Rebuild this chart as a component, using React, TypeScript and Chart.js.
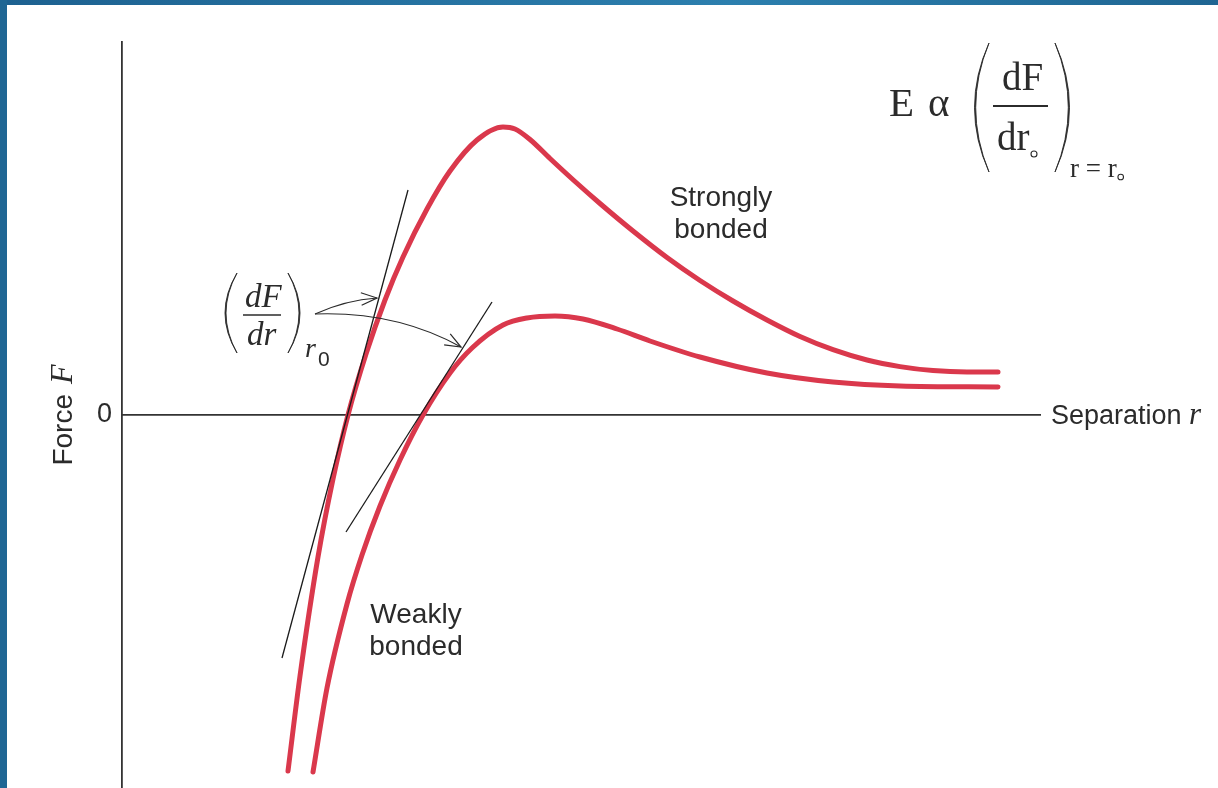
import React, { useEffect, useRef } from "react";
import { Chart, registerables } from "chart.js";

Chart.register(...registerables);

// Separation r (arbitrary units) and interatomic force F for the two bond types
const strongR = [1.66, 1.78, 1.96, 2.11, 2.26, 2.44, 2.63, 2.81, 3.05, 3.28, 3.55, 3.81, 3.93, 4.08, 4.28, 4.53, 4.78, 5.11, 5.45, 5.78, 6.11, 6.45, 6.78, 7.11, 7.45, 7.78, 8.11, 8.45, 8.76];
const strongF = [-3.56, -2.61, -1.42, -0.64, 0, 0.61, 1.15, 1.58, 2.06, 2.44, 2.75, 2.88, 2.86, 2.755, 2.565, 2.335, 2.115, 1.84, 1.575, 1.345, 1.14, 0.95, 0.785, 0.653, 0.55, 0.484, 0.444, 0.43, 0.43];

const weakR = [1.91, 2.05, 2.25, 2.4, 2.58, 2.78, 3.01, 3.28, 3.5, 3.81, 4.05, 4.33, 4.61, 4.95, 5.28, 5.78, 6.45, 7.11, 7.78, 8.76];
const weakF = [-3.57, -2.73, -1.89, -1.4, -0.91, -0.45, 0, 0.42, 0.67, 0.9, 0.97, 0.99, 0.96, 0.86, 0.74, 0.58, 0.42, 0.33, 0.29, 0.28];

// Tangent lines (dF/dr) at r0, where each curve crosses F = 0
const strongTangentR = [1.6, 2.86];
const strongTangentF = [-2.43, 2.25];
const weakTangentR = [2.24, 3.7];
const weakTangentF = [-1.17, 1.13];

// Axis range and the single labelled tick
const rMin = 0;
const rMax = 9.18;
const fMin = -3.73;
const fMax = 3.73;
const yTickValues = [0];

const SANS = '"Liberation Sans", Arial, Helvetica, sans-serif';
const SERIF = '"Liberation Serif", "Times New Roman", Times, serif';
const INK = "#2b2b2b";
const RED = "rgb(218, 56, 76)";

const toPoints = (xs: number[], ys: number[]) => xs.map((x, i) => ({ x, y: ys[i] }));

function arrow(ctx: CanvasRenderingContext2D, x0: number, y0: number, cx: number, cy: number, x1: number, y1: number) {
  ctx.beginPath();
  ctx.moveTo(x0, y0);
  ctx.quadraticCurveTo(cx, cy, x1, y1);
  ctx.stroke();
  const ang = Math.atan2(y1 - cy, x1 - cx);
  const len = 17;
  const spread = 0.38;
  ctx.beginPath();
  ctx.moveTo(x1 - len * Math.cos(ang - spread), y1 - len * Math.sin(ang - spread));
  ctx.lineTo(x1, y1);
  ctx.lineTo(x1 - len * Math.cos(ang + spread), y1 - len * Math.sin(ang + spread));
  ctx.stroke();
}

// Tall bracket drawn as a crescent: thin at the ends, thicker in the middle
function paren(ctx: CanvasRenderingContext2D, x: number, top: number, bottom: number, bulge: number, weight: number) {
  const mid = (top + bottom) / 2;
  const dir = Math.sign(bulge);
  ctx.beginPath();
  ctx.moveTo(x, top);
  ctx.quadraticCurveTo(x + bulge, mid, x, bottom);
  ctx.quadraticCurveTo(x + bulge - dir * weight * 2, mid, x, top);
  ctx.closePath();
  ctx.fill();
  ctx.lineWidth = 0.9;
  ctx.stroke();
}

const labelsPlugin = {
  id: "bondLabels",
  afterDraw(chart: any) {
    const ctx: CanvasRenderingContext2D = chart.ctx;
    const xs = chart.scales.x;
    const ys = chart.scales.y;
    const X = (r: number) => xs.getPixelForValue(r);
    const Y = (f: number) => ys.getPixelForValue(f);
    ctx.save();
    ctx.fillStyle = INK;
    ctx.strokeStyle = INK;
    ctx.textBaseline = "alphabetic";

    // y axis title: "Force F"
    ctx.save();
    ctx.translate(72, Y(0));
    ctx.rotate(-Math.PI / 2);
    ctx.font = `28px ${SANS}`;
    const wForce = ctx.measureText("Force").width;
    ctx.font = `italic 32px ${SERIF}`;
    const wF = ctx.measureText("F").width;
    const gap = 10;
    const start = -(wForce + gap + wF) / 2;
    ctx.font = `28px ${SANS}`;
    ctx.textAlign = "left";
    ctx.fillText("Force", start, 0);
    ctx.font = `italic 32px ${SERIF}`;
    ctx.fillText("F", start + wForce + gap, 0);
    ctx.restore();

    // x axis title: "Separation r"
    ctx.textAlign = "left";
    ctx.font = `27px ${SANS}`;
    const sx = xs.right + 11;
    const sy = Y(0) + 9;
    ctx.fillText("Separation", sx, sy);
    const wSep = ctx.measureText("Separation ").width;
    ctx.font = `italic 31px ${SERIF}`;
    ctx.fillText("r", sx + wSep, sy);

    // curve labels
    ctx.font = `28px ${SANS}`;
    ctx.textAlign = "center";
    ctx.fillText("Strongly", X(5.99), Y(2.09));
    ctx.fillText("bonded", X(5.99), Y(1.77));
    ctx.fillText("Weakly", X(2.94), Y(-2.08));
    ctx.fillText("bonded", X(2.94), Y(-2.4));

    // (dF/dr) at r0 label
    paren(ctx, 237, 273, 353, -24, 1);
    paren(ctx, 288, 273, 353, 24, 1);
    ctx.textAlign = "left";
    ctx.font = `italic 33px ${SERIF}`;
    ctx.fillText("dF", 245, 307);
    ctx.fillText("dr", 247, 345);
    ctx.lineWidth = 1.5;
    ctx.beginPath();
    ctx.moveTo(243, 315);
    ctx.lineTo(281, 315);
    ctx.stroke();
    ctx.font = `italic 28px ${SERIF}`;
    ctx.fillText("r", 305, 357);
    ctx.font = `21px ${SANS}`;
    ctx.fillText("0", 318, 366);

    // arrows to the two tangents
    ctx.lineWidth = 1.2;
    arrow(ctx, 315, 314, 346, 300, 377, 298);
    arrow(ctx, 315, 314, 396, 311, 461, 347);

    // E ∝ (dF/dr) at r = r0
    ctx.font = `41px ${SERIF}`;
    ctx.fillText("E", 889, 116);
    ctx.fillText("α", 928, 116);
    paren(ctx, 989, 43, 172, -29, 1.2);
    paren(ctx, 1055, 43, 172, 29, 1.2);
    ctx.font = `39px ${SERIF}`;
    ctx.fillText("dF", 1002, 90);
    ctx.fillText("dr", 997, 150);
    ctx.lineWidth = 2;
    ctx.beginPath();
    ctx.moveTo(993, 106);
    ctx.lineTo(1048, 106);
    ctx.stroke();
    ctx.lineWidth = 1.1;
    ctx.beginPath();
    ctx.arc(1034, 154, 3, 0, Math.PI * 2);
    ctx.stroke();
    ctx.font = `27px ${SERIF}`;
    ctx.fillText("r = r", 1070, 177);
    const wSub = ctx.measureText("r = r").width;
    ctx.beginPath();
    ctx.arc(1070 + wSub + 4, 177, 2.8, 0, Math.PI * 2);
    ctx.stroke();

    ctx.restore();
  },
};

export default function App() {
  const ref = useRef<HTMLCanvasElement>(null);

  useEffect(() => {
    if (!ref.current) return;
    const chart = new Chart(ref.current, {
      type: "line",
      data: {
        datasets: [
          {
            data: toPoints(strongTangentR, strongTangentF),
            borderColor: "#1a1a1a",
            borderWidth: 1.3,
            tension: 0,
          },
          {
            data: toPoints(weakTangentR, weakTangentF),
            borderColor: "#1a1a1a",
            borderWidth: 1.3,
            tension: 0,
          },
          {
            data: toPoints(strongR, strongF),
            borderColor: RED,
            borderWidth: 5,
            cubicInterpolationMode: "monotone",
            borderCapStyle: "round",
            borderJoinStyle: "round",
          },
          {
            data: toPoints(weakR, weakF),
            borderColor: RED,
            borderWidth: 5,
            cubicInterpolationMode: "monotone",
            borderCapStyle: "round",
            borderJoinStyle: "round",
          },
        ],
      },
      options: {
        responsive: false,
        animation: false,
        layout: { padding: { left: 0, top: 42, right: 178, bottom: 0 } },
        elements: { point: { radius: 0 } },
        plugins: { legend: { display: false }, tooltip: { enabled: false } },
        scales: {
          x: {
            type: "linear",
            min: rMin,
            max: rMax,
            position: { y: 0 },
            z: 1,
            grid: { display: false, drawTicks: false },
            ticks: { display: false },
            border: { color: "#333", width: 1.8 },
            afterFit: (s: any) => {
              s.height = 0;
              s.paddingLeft = 0;
              s.paddingRight = 0;
            },
          },
          y: {
            type: "linear",
            min: fMin,
            max: fMax,
            grid: { display: false, drawTicks: false },
            border: { color: "#333", width: 1.8 },
            ticks: {
              color: INK,
              padding: 10,
              font: { family: SANS, size: 27 },
              callback: (v: any) => String(v),
            },
            afterBuildTicks: (s: any) => {
              s.ticks = yTickValues.map((value) => ({ value }));
            },
            afterFit: (s: any) => {
              s.width = 122;
              s.paddingTop = 0;
              s.paddingBottom = 0;
            },
          },
        },
      },
      plugins: [labelsPlugin],
    } as any);
    return () => chart.destroy();
  }, []);

  return (
    <div style={{ position: "fixed", left: 0, top: 0, width: 1218, height: 788, background: "#fff", overflow: "hidden" }}>
      <div
        style={{
          position: "absolute",
          left: 0,
          top: 0,
          width: 1218,
          height: 5,
          background: "linear-gradient(90deg, #1d6190 0%, #2c7fae 60%, #1f6592 100%)",
        }}
      />
      <div style={{ position: "absolute", left: 0, top: 0, width: 7, height: 788, background: "#1f6694" }} />
      <canvas
        ref={ref}
        width={1218}
        height={788}
        style={{ position: "absolute", left: 0, top: 0, width: 1218, height: 788 }}
      />
    </div>
  );
}
